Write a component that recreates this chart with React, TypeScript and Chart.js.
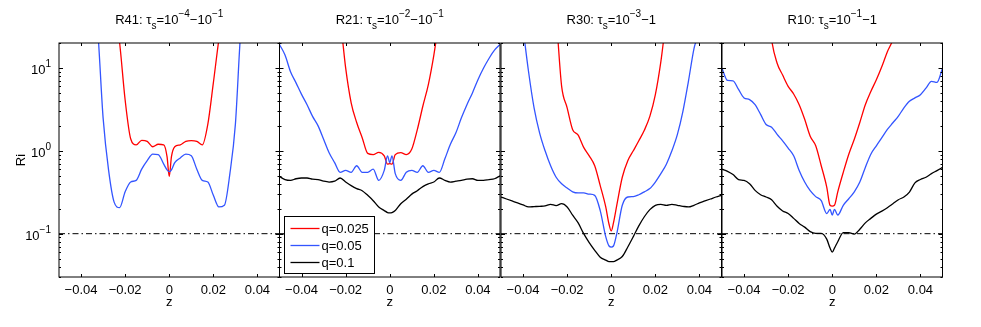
import React, { useEffect, useRef } from 'react';
import { Chart, registerables } from 'chart.js';

Chart.register(...registerables);

// ---------------- data ----------------
const Z = [
  -0.05, -0.0475, -0.045, -0.0425, -0.04, -0.0375, -0.035, -0.0325, -0.03, -0.0275,
  -0.025, -0.0225, -0.02, -0.0175, -0.015, -0.0125, -0.01, -0.0075, -0.005, -0.0025,
  -0.001, 0, 0.001,
  0.0025, 0.005, 0.0075, 0.01, 0.0125, 0.015, 0.0175, 0.02, 0.0225, 0.025,
  0.0275, 0.03, 0.0325, 0.035, 0.0375, 0.04, 0.0425, 0.045, 0.0475, 0.05,
];

const SERIES_LABELS = ['q=0.025', 'q=0.05', 'q=0.1'];
const X_TICKS = [-0.04, -0.02, 0, 0.02, 0.04];
const X_TICK_LABELS = ['\u22120.04', '\u22120.02', '0', '0.02', '0.04'];
const Y_TICKS = [0.1, 1, 10];
const Y_TICK_EXPONENTS = ['\u22121', '0', '1'];
const Y_MIN = 0.03;
const Y_MAX = 20;
const RI_CRITICAL = 0.1;
const X_TITLE = 'z';
const Y_TITLE = 'Ri';

// R41
const R41_RED = [
  100, 100, 100, 100, 100, 100, 100, 100, 100, 100,
  60, 20, 4.1, 1.4, 1.18, 1.34, 1.3, 1.12, 1.2, 1.18,
  0.85, 0.49, 0.85,
  1.12, 1.18, 1.3, 1.33, 1.3, 1.18, 2.1, 6.6, 22, 60,
  100, 100, 100, 100, 100, 100, 100, 100, 100, 100,
];
const R41_BLUE = [
  100, 100, 100, 100, 100, 100, 100, 30, 2.5, 0.58,
  0.24, 0.206, 0.32, 0.42, 0.44, 0.6, 0.76, 0.91, 0.9, 0.69,
  0.59, 0.56, 0.59,
  0.72, 0.82, 0.91, 0.87, 0.6, 0.44, 0.42, 0.29, 0.21, 0.22,
  0.53, 2.1, 30, 100, 100, 100, 100, 100, 100, 100,
];

// R21
const R21_RED = [
  100, 100, 100, 100, 100, 100, 100, 100, 100, 100,
  100, 40, 10, 3.8, 2.2, 1.44, 0.93, 0.9, 0.96, 0.87,
  0.69, 0.7, 0.69,
  0.9, 0.95, 0.9, 1.05, 1.8, 3.45, 6.3, 14.3, 40, 100,
  100, 100, 100, 100, 100, 100, 100, 100, 100, 100,
];
const R21_BLUE = [
  19.2, 14.3, 9.0, 6.6, 4.8, 3.6, 2.6, 2.0, 1.38, 0.95,
  0.72, 0.55, 0.58, 0.55, 0.66, 0.55, 0.55, 0.6, 0.44, 0.58,
  0.87, 0.72, 0.87,
  0.53, 0.44, 0.55, 0.58, 0.55, 0.66, 0.55, 0.58, 0.55, 0.8,
  1.2, 1.65, 2.5, 3.6, 5.0, 7.2, 9.9, 13, 16.4, 19.2,
];
const R21_BLACK = [
  0.49, 0.45, 0.44, 0.46, 0.47, 0.47, 0.455, 0.45, 0.43, 0.42,
  0.43, 0.47, 0.42, 0.38, 0.35, 0.33, 0.29, 0.25, 0.21, 0.19,
  0.18, 0.178, 0.18,
  0.19, 0.23, 0.26, 0.3, 0.33, 0.37, 0.4, 0.42, 0.47, 0.44,
  0.42, 0.43, 0.44, 0.455, 0.46, 0.44, 0.44, 0.45, 0.46, 0.5,
];

// R30
const R30_RED = [
  100, 100, 100, 100, 100, 100, 100, 100, 100, 100,
  40, 6.0, 3.3, 1.8, 1.55, 1.1, 0.87, 0.66, 0.38, 0.21,
  0.13, 0.108, 0.135,
  0.22, 0.48, 0.76, 1.0, 1.32, 1.77, 2.6, 4.75, 11.9, 40,
  100, 100, 100, 100, 100, 100, 100, 100, 100, 100,
];
const R30_BLUE = [
  100, 100, 100, 100, 30, 9.0, 3.3, 1.65, 1.0, 0.66,
  0.48, 0.4, 0.355, 0.32, 0.31, 0.31, 0.3, 0.29, 0.19, 0.092,
  0.071, 0.069, 0.071,
  0.1, 0.22, 0.277, 0.28, 0.295, 0.32, 0.35, 0.42, 0.53, 0.69,
  1.0, 1.58, 3.0, 6.9, 17, 30, 100, 100, 100, 100,
];
const R30_BLACK = [
  0.277, 0.262, 0.248, 0.235, 0.222, 0.21, 0.212, 0.214, 0.216, 0.226,
  0.218, 0.23, 0.21, 0.167, 0.135, 0.1, 0.078, 0.063, 0.052, 0.048,
  0.046, 0.046, 0.046,
  0.048, 0.053, 0.069, 0.092, 0.124, 0.16, 0.195, 0.22, 0.226, 0.22,
  0.226, 0.22, 0.214, 0.21, 0.22, 0.235, 0.248, 0.262, 0.277, 0.29,
];

// R10
const R10_RED = [
  100, 100, 100, 100, 100, 100, 100, 100, 100, 22,
  11.4, 8.2, 6.0, 4.85, 3.6, 2.4, 1.5, 1.15, 0.66, 0.365,
  0.22, 0.215, 0.22,
  0.32, 0.55, 0.91, 1.38, 2.2, 3.6, 5.2, 7.2, 10.4, 15.7,
  22, 40, 100, 100, 100, 100, 100, 100, 100, 100,
];
const R10_BLUE = [
  9.9, 7.06, 7.0, 5.5, 4.35, 4.15, 3.6, 2.75, 2.08, 1.93,
  1.58, 1.32, 1.08, 0.87, 0.58, 0.42, 0.33, 0.28, 0.25, 0.175,
  0.196, 0.168, 0.196,
  0.168, 0.22, 0.264, 0.32, 0.42, 0.63, 0.91, 1.15, 1.44, 1.81,
  2.18, 2.62, 3.3, 3.96, 4.35, 4.76, 5.7, 6.9, 6.7, 9.9,
];
const R10_BLACK = [
  0.6, 0.566, 0.517, 0.45, 0.44, 0.4, 0.333, 0.295, 0.277, 0.257,
  0.214, 0.188, 0.175, 0.153, 0.133, 0.12, 0.106, 0.101, 0.101, 0.086,
  0.067, 0.06, 0.067,
  0.08, 0.103, 0.103, 0.099, 0.113, 0.135, 0.153, 0.172, 0.187, 0.206,
  0.23, 0.257, 0.277, 0.318, 0.41, 0.45, 0.48, 0.53, 0.577, 0.63,
];

type Seg = [string, 'n' | 'sub' | 'sup'];
const TITLE_R41: Seg[] = [['R41: \u03c4', 'n'], ['s', 'sub'], ['=10', 'n'], ['\u22124', 'sup'], ['\u221210', 'n'], ['\u22121', 'sup']];
const TITLE_R21: Seg[] = [['R21: \u03c4', 'n'], ['s', 'sub'], ['=10', 'n'], ['\u22122', 'sup'], ['\u221210', 'n'], ['\u22121', 'sup']];
const TITLE_R30: Seg[] = [['R30: \u03c4', 'n'], ['s', 'sub'], ['=10', 'n'], ['\u22123', 'sup'], ['\u22121', 'n']];
const TITLE_R10: Seg[] = [['R10: \u03c4', 'n'], ['s', 'sub'], ['=10', 'n'], ['\u22121', 'sup'], ['\u22121', 'n']];

// ---------------- styling / layout ----------------
const W = 981;
const H = 327;
const FONT = "'Liberation Sans', Arial, Helvetica, sans-serif";
const COLORS = ['#ff0000', '#3355ff', '#000000'];
const PLOT_TOP = 43;
const PLOT_BOTTOM = 277;
const PANEL_LEFTS = [59, 279.5, 501, 722];
const PANEL_W = 220.5;

const PANELS = [
  { title: TITLE_R41, series: [R41_RED, R41_BLUE], first: true, legend: false },
  { title: TITLE_R21, series: [R21_RED, R21_BLUE, R21_BLACK], first: false, legend: true },
  { title: TITLE_R30, series: [R30_RED, R30_BLUE, R30_BLACK], first: false, legend: false },
  { title: TITLE_R10, series: [R10_RED, R10_BLUE, R10_BLACK], first: false, legend: false },
];

function drawRich(ctx: CanvasRenderingContext2D, segs: Seg[], x: number, y: number, align: 'center' | 'right') {
  const big = 13, small = 10;
  const widths = segs.map(([t, k]) => {
    ctx.font = `${k === 'n' ? big : small}px ${FONT}`;
    return ctx.measureText(t).width;
  });
  const total = widths.reduce((a, b) => a + b, 0);
  let cx = align === 'center' ? x - total / 2 : x - total;
  ctx.textAlign = 'left';
  ctx.textBaseline = 'alphabetic';
  ctx.fillStyle = '#000';
  segs.forEach(([t, k], i) => {
    ctx.font = `${k === 'n' ? big : small}px ${FONT}`;
    const dy = k === 'sup' ? -7 : k === 'sub' ? 5 : 0;
    ctx.fillText(t, cx, y + dy);
    cx += widths[i];
  });
}

function makePlugin(panel: typeof PANELS[number]) {
  return {
    id: 'matlabDecor',
    afterDatasetsDraw(chart: any) {
      const ctx: CanvasRenderingContext2D = chart.ctx;
      const { left, right, top, bottom } = chart.chartArea;
      const xs = chart.scales.x;
      const ys = chart.scales.y;
      ctx.save();
      ctx.strokeStyle = '#000';
      ctx.lineWidth = 1;
      ctx.strokeRect(left, top, right - left, bottom - top);
      ctx.beginPath();
      X_TICKS.forEach((v) => {
        const px = Math.round(xs.getPixelForValue(v)) + 0.5;
        ctx.moveTo(px, bottom); ctx.lineTo(px, bottom - 3);
        ctx.moveTo(px, top); ctx.lineTo(px, top + 3);
      });
      for (let e = -2; e <= 1; e++) {
        for (let m = 1; m <= 9; m++) {
          const v = m * Math.pow(10, e);
          if (v < Y_MIN - 1e-9 || v > Y_MAX + 1e-9) continue;
          const py = Math.round(ys.getPixelForValue(v)) + 0.5;
          const len = m === 1 ? 4 : 2;
          ctx.moveTo(left, py); ctx.lineTo(left + len, py);
          ctx.moveTo(right, py); ctx.lineTo(right - len, py);
        }
      }
      ctx.stroke();
      drawRich(ctx, panel.title, (left + right) / 2, 24, 'center');
      if (panel.first) {
        Y_TICKS.forEach((v, i) => {
          const py = ys.getPixelForValue(v);
          drawRich(ctx, [['10', 'n'], [Y_TICK_EXPONENTS[i], 'sup']], left - 8, py + 6, 'right');
        });
      }
      ctx.restore();
    },
    afterDraw(chart: any) {
      if (!panel.legend) return;
      const ctx: CanvasRenderingContext2D = chart.ctx;
      const { left, bottom } = chart.chartArea;
      const bx = Math.round(left + 4) + 0.5;
      const by = Math.round(bottom - 61) + 0.5;
      const bw = 90, bh = 57;
      ctx.save();
      ctx.fillStyle = '#fff';
      ctx.fillRect(bx, by, bw, bh);
      ctx.strokeStyle = '#000';
      ctx.lineWidth = 1;
      ctx.strokeRect(bx, by, bw, bh);
      ctx.font = `13px ${FONT}`;
      ctx.textAlign = 'left';
      ctx.textBaseline = 'middle';
      SERIES_LABELS.forEach((lab, i) => {
        const ry = by + 12 + i * 17;
        ctx.strokeStyle = COLORS[i];
        ctx.lineWidth = 1.3;
        ctx.beginPath();
        ctx.moveTo(bx + 6, ry);
        ctx.lineTo(bx + 35, ry);
        ctx.stroke();
        ctx.fillStyle = '#000';
        ctx.fillText(lab, bx + 37, ry + 1);
      });
      ctx.restore();
    },
  };
}

function Panel({ index }: { index: number }) {
  const ref = useRef<HTMLCanvasElement | null>(null);
  useEffect(() => {
    const panel = PANELS[index];
    const pLeft = PANEL_LEFTS[index];
    const pRight = pLeft + PANEL_W;
    const yAxisW = panel.first ? pLeft : 0;
    const datasets: any[] = [
      {
        label: 'Ri=0.1',
        data: [{ x: -0.05, y: RI_CRITICAL }, { x: 0.05, y: RI_CRITICAL }],
        borderColor: '#000',
        borderWidth: 1,
        borderDash: [6, 3, 1.5, 3],
        pointRadius: 0,
        order: 10,
      },
    ];
    panel.series.forEach((vals, i) => {
      datasets.push({
        label: SERIES_LABELS[i],
        data: Z.map((z, k) => ({ x: z, y: vals[k] })),
        borderColor: COLORS[i],
        borderWidth: 1.3,
        pointRadius: 0,
        cubicInterpolationMode: 'monotone',
        order: 3 - i,
      });
    });
    const chart = new Chart(ref.current as HTMLCanvasElement, {
      type: 'line',
      data: { datasets },
      options: {
        animation: false,
        responsive: false,
        devicePixelRatio: 1,
        events: [],
        layout: {
          padding: { left: pLeft - yAxisW, right: W - pRight, top: PLOT_TOP, bottom: 0 },
        },
        plugins: {
          legend: { display: false },
          title: { display: false },
          tooltip: { enabled: false },
        },
        scales: {
          x: {
            type: 'linear',
            min: -0.05,
            max: 0.05,
            grid: { display: false, drawTicks: false },
            border: { display: false },
            afterBuildTicks: (s: any) => {
              s.ticks = X_TICKS.map((v) => ({ value: v }));
            },
            afterFit: (s: any) => {
              s.height = H - PLOT_BOTTOM;
            },
            ticks: {
              autoSkip: false,
              maxRotation: 0,
              padding: 6,
              color: '#000',
              font: { family: FONT, size: 13 },
              callback: (v: any) => {
                const i = X_TICKS.findIndex((t) => Math.abs(t - Number(v)) < 1e-9);
                return i >= 0 ? X_TICK_LABELS[i] : '';
              },
            },
            title: {
              display: true,
              text: X_TITLE,
              color: '#000',
              font: { family: FONT, size: 13 },
              padding: { top: 0, bottom: 17 },
            },
          },
          y: {
            type: 'logarithmic',
            min: Y_MIN,
            max: Y_MAX,
            display: panel.first,
            grid: { display: false, drawTicks: false },
            border: { display: false },
            ticks: { display: false },
            afterFit: (s: any) => {
              s.width = yAxisW;
            },
            title: {
              display: true,
              text: Y_TITLE,
              color: '#000',
              font: { family: FONT, size: 13 },
              padding: { top: 14, bottom: 0 },
            },
          },
        },
      } as any,
      plugins: [makePlugin(panel)],
    });
    return () => chart.destroy();
  }, [index]);
  return (
    <canvas
      ref={ref}
      width={W}
      height={H}
      style={{ position: 'absolute', left: 0, top: 0, width: W, height: H }}
    />
  );
}

export default function App() {
  return (
    <div style={{ position: 'absolute', left: 0, top: 0, width: W, height: H, background: '#fff' }}>
      {PANELS.map((_, i) => (
        <Panel key={i} index={i} />
      ))}
    </div>
  );
}
